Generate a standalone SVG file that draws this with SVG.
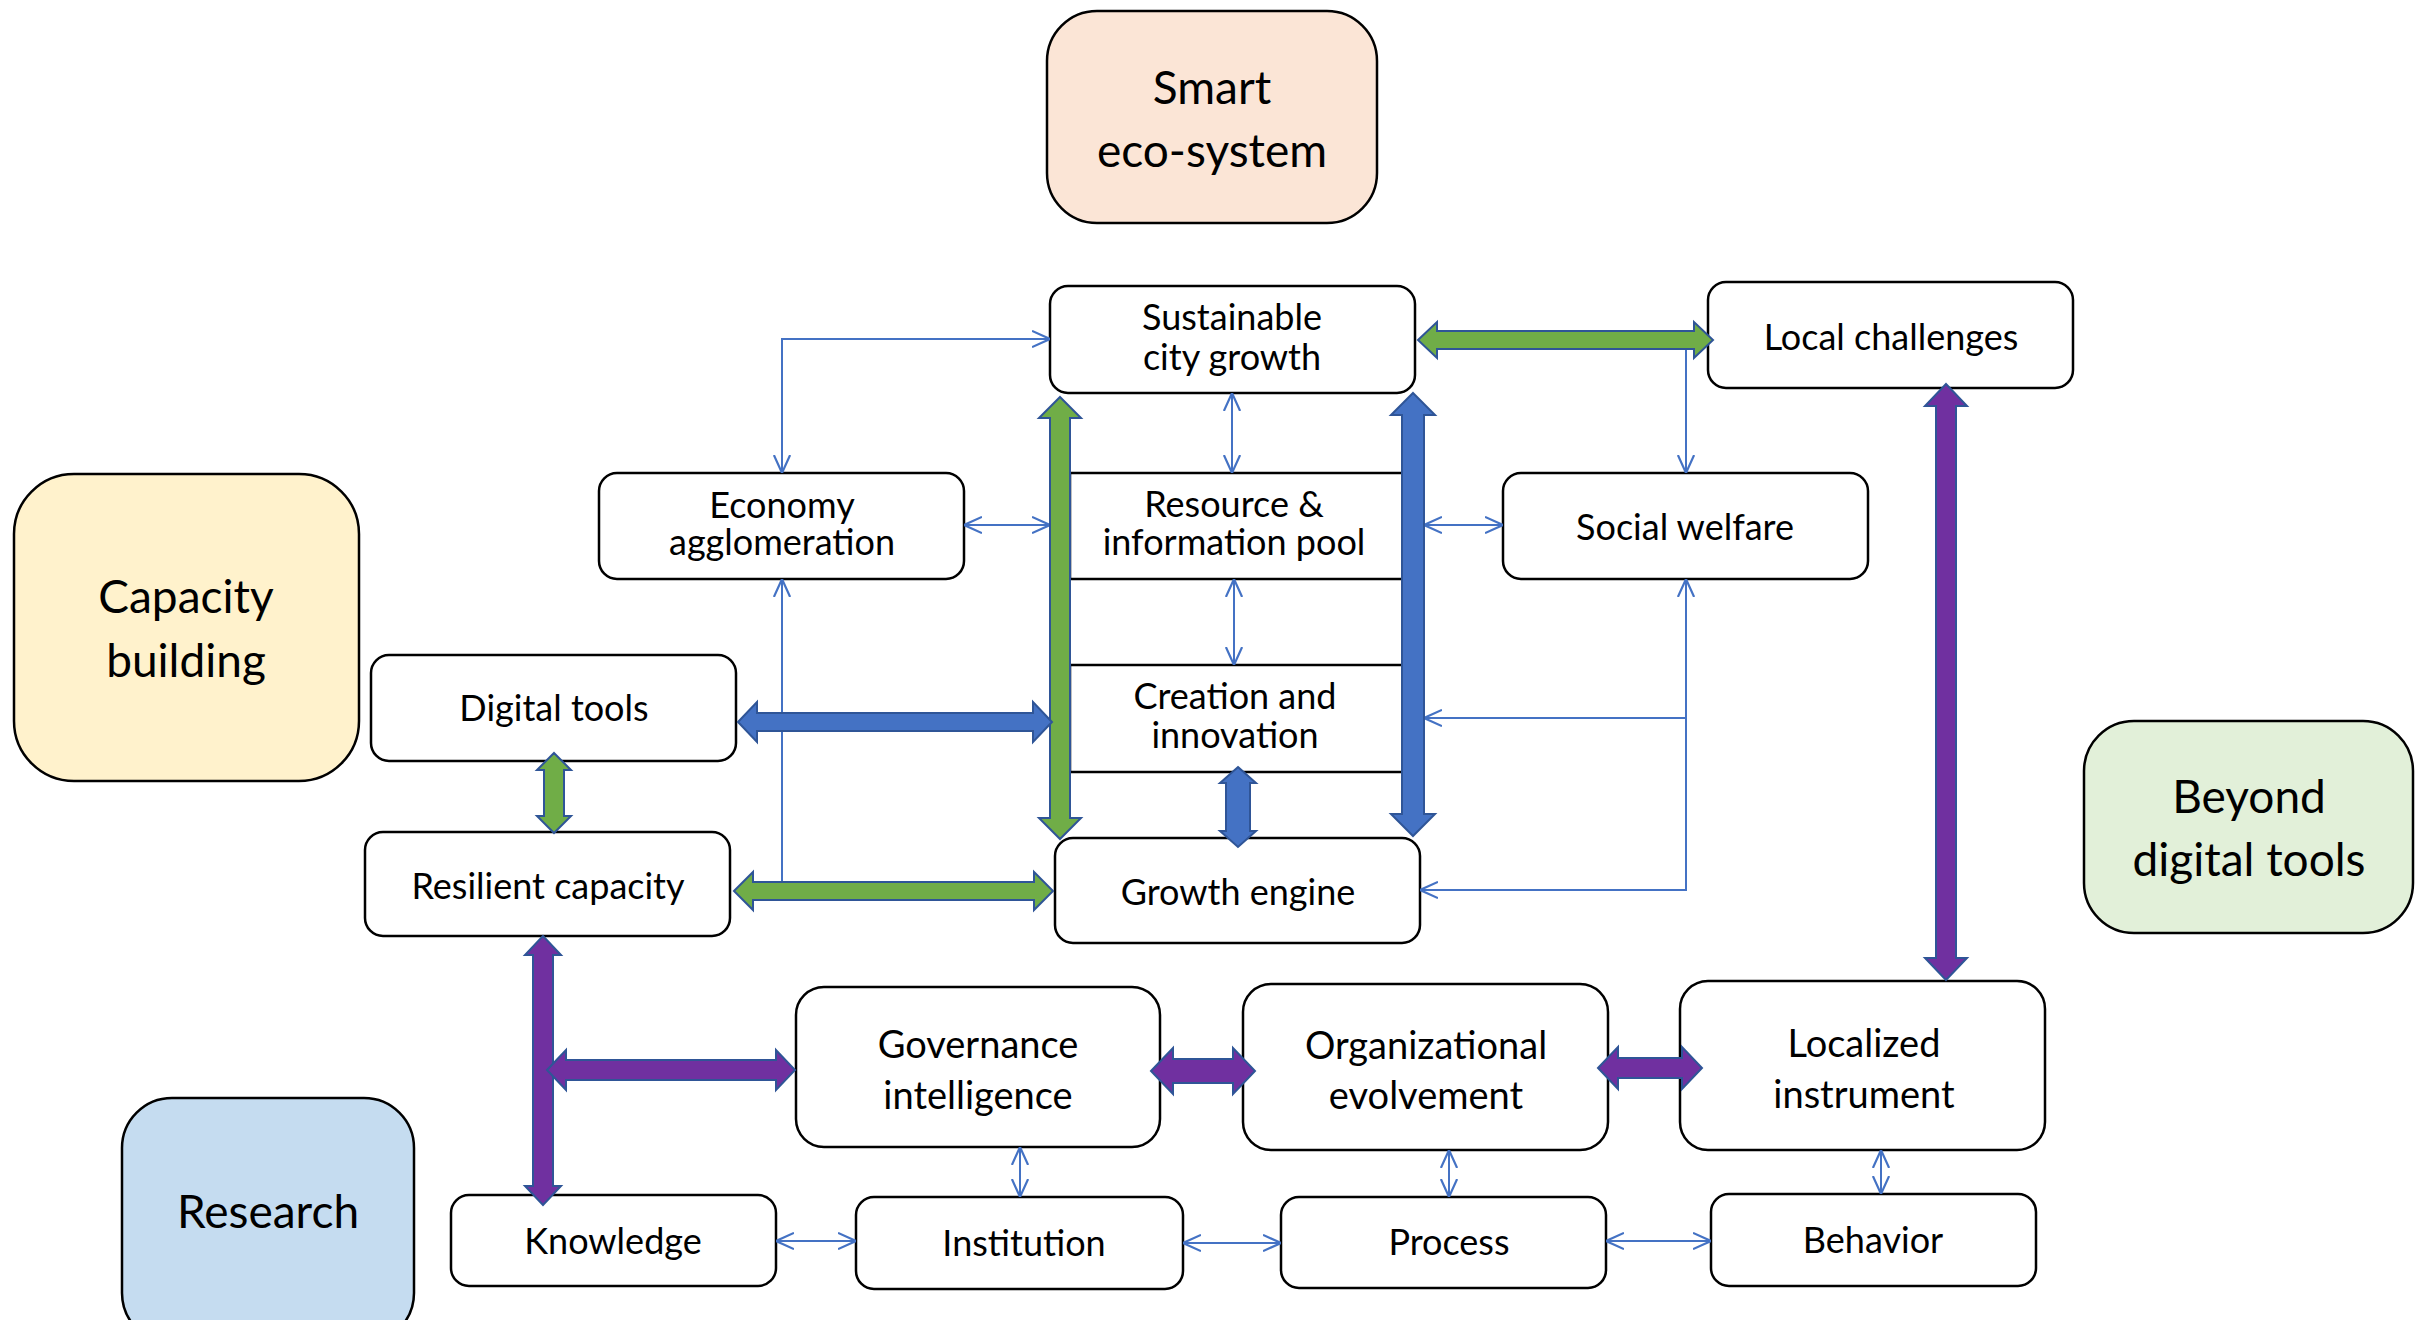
<svg xmlns="http://www.w3.org/2000/svg" width="2415" height="1320" viewBox="0 0 2415 1320">
<style>
.box{fill:#fff;stroke:#000;stroke-width:2.5}
.lbl{font-family:Lato,"Open Sans","Liberation Sans",sans-serif;font-weight:400;font-size:36px;fill:#000;text-anchor:middle}
.big{font-size:46px}
.mid{font-size:38px}
.thin{fill:none;stroke:#4472C4;stroke-width:2}
.both{marker-start:url(#oa);marker-end:url(#oa)}
.end{marker-end:url(#oa)}
.start{marker-start:url(#oa)}
.g{fill:#70AD47;stroke:#2F5597;stroke-width:2;stroke-linejoin:miter}
.b{fill:#4472C4;stroke:#2F5597;stroke-width:2}
.p{fill:#7030A0;stroke:#2F5597;stroke-width:2}
</style>
<defs>
<marker id="oa" viewBox="0 0 10 10" refX="10" refY="5" markerWidth="18" markerHeight="18" markerUnits="userSpaceOnUse" orient="auto-start-reverse">
<path d="M0,0.5 L10,5 L0,9.5" fill="none" stroke="#4472C4" stroke-width="1.2"/>
</marker>
</defs>

<g id="smart-eco-system">
<rect x="1047" y="11" width="330" height="212" rx="50" fill="#FBE5D6" stroke="#000" stroke-width="2.5"/>
<text class="lbl big" x="1212" y="104">Smart</text>
<text class="lbl big" x="1212" y="167">eco-system</text>
</g>
<g id="capacity-building">
<rect x="14" y="474" width="345" height="307" rx="60" fill="#FFF2CC" stroke="#000" stroke-width="2.5"/>
<text class="lbl big" x="186" y="613">Capacity</text>
<text class="lbl big" x="186" y="677">building</text>
</g>
<g id="beyond-digital-tools">
<rect x="2084" y="721" width="329" height="212" rx="50" fill="#E2F0D9" stroke="#000" stroke-width="2.5"/>
<text class="lbl big" x="2249" y="813">Beyond</text>
<text class="lbl big" x="2249" y="876">digital tools</text>
</g>
<g id="research">
<rect x="122" y="1098" width="292" height="245" rx="50" fill="#C5DCF0" stroke="#000" stroke-width="2.5"/>
<text class="lbl big" x="268" y="1228">Research</text>
</g>

<g id="sustainable-city-growth">
<rect class="box" x="1050" y="286" width="365" height="107" rx="18"/>
<text class="lbl" x="1232" y="330">Sustainable</text>
<text class="lbl" x="1232" y="370">city growth</text>
</g>
<g id="local-challenges">
<rect class="box" x="1708" y="282" width="365" height="106" rx="18"/>
<text class="lbl" x="1891" y="350">Local challenges</text>
</g>
<g id="economy-agglomeration">
<rect class="box" x="599" y="473" width="365" height="106" rx="18"/>
<text class="lbl" x="782" y="518">Economy</text>
<text class="lbl" x="782" y="555">agglomeration</text>
</g>
<g id="resource-information-pool">
<rect class="box" x="1070" y="473" width="333" height="106"/>
<text class="lbl" x="1234" y="517">Resource &amp;</text>
<text class="lbl" x="1234" y="555">information pool</text>
</g>
<g id="creation-and-innovation">
<rect class="box" x="1070" y="665" width="333" height="107"/>
<text class="lbl" x="1235" y="709">Creation and</text>
<text class="lbl" x="1235" y="748">innovation</text>
</g>
<g id="social-welfare">
<rect class="box" x="1503" y="473" width="365" height="106" rx="18"/>
<text class="lbl" x="1685" y="540">Social welfare</text>
</g>
<g id="digital-tools">
<rect class="box" x="371" y="655" width="365" height="106" rx="18"/>
<text class="lbl" x="554" y="721">Digital tools</text>
</g>
<g id="resilient-capacity">
<rect class="box" x="365" y="832" width="365" height="104" rx="18"/>
<text class="lbl" x="548" y="899">Resilient capacity</text>
</g>
<g id="growth-engine">
<rect class="box" x="1055" y="838" width="365" height="105" rx="18"/>
<text class="lbl" x="1238" y="905">Growth engine</text>
</g>
<g id="governance-intelligence">
<rect class="box" x="796" y="987" width="364" height="160" rx="28"/>
<text class="lbl mid" x="978" y="1058">Governance</text>
<text class="lbl mid" x="978" y="1109">intelligence</text>
</g>
<g id="organizational-evolvement">
<rect class="box" x="1243" y="984" width="365" height="166" rx="28"/>
<text class="lbl mid" x="1426" y="1059">Organizational</text>
<text class="lbl mid" x="1426" y="1109">evolvement</text>
</g>
<g id="localized-instrument">
<rect class="box" x="1680" y="981" width="365" height="169" rx="28"/>
<text class="lbl mid" x="1864" y="1057">Localized</text>
<text class="lbl mid" x="1864" y="1108">instrument</text>
</g>
<g id="knowledge">
<rect class="box" x="451" y="1195" width="325" height="91" rx="18"/>
<text class="lbl" x="613" y="1254">Knowledge</text>
</g>
<g id="institution">
<rect class="box" x="856" y="1197" width="327" height="92" rx="18"/>
<text class="lbl" x="1024" y="1256">Institution</text>
</g>
<g id="process">
<rect class="box" x="1281" y="1197" width="325" height="91" rx="18"/>
<text class="lbl" x="1449" y="1255">Process</text>
</g>
<g id="behavior">
<rect class="box" x="1711" y="1194" width="325" height="92" rx="18"/>
<text class="lbl" x="1873" y="1253">Behavior</text>
</g>

<g id="connectors">
<path class="thin both" d="M782,473 V339 H1050"/>
<path class="thin both" d="M1232,393 V473"/>
<path class="thin both" d="M964,525 H1050"/>
<path class="thin both" d="M1234,579 V665"/>
<path class="thin both" d="M1424,525 H1503"/>
<path class="thin end" d="M1686,349 V473"/>
<path class="thin both" d="M1686,579 V890 H1420"/>
<path class="thin end" d="M1686,718 H1424"/>
<path class="thin start" d="M782,579 V882"/>
<path class="thin both" d="M1020,1147 V1197"/>
<path class="thin both" d="M1449,1150 V1197"/>
<path class="thin both" d="M1881,1150 V1194"/>
<path class="thin both" d="M776,1241 H856"/>
<path class="thin both" d="M1183,1243 H1281"/>
<path class="thin both" d="M1606,1241 H1711"/>

<polygon class="g" points="1060,397 1081,418 1070,418 1070,818 1081,818 1060,839 1039,818 1050,818 1050,418 1039,418"/>
<polygon class="b" points="1413,393 1435,415 1424,415 1424,814 1435,814 1413,836 1391,814 1402,814 1402,415 1391,415"/>
<polygon class="b" points="1238,767 1256,783 1250,783 1250,831 1256,831 1238,847 1220,831 1226,831 1226,783 1220,783"/>
<polygon class="b" points="738,722 757,702 757,713 1033,713 1033,702 1052,722 1033,742 1033,731 757,731 757,742"/>
<polygon class="g" points="734,891 753,872 753,882 1034,882 1034,872 1053,891 1034,910 1034,900 753,900 753,910"/>
<polygon class="g" points="1418,340 1437,322 1437,331 1694,331 1694,322 1713,340 1694,358 1694,349 1437,349 1437,358"/>
<polygon class="g" points="554,753 571,770 564,770 564,816 571,816 554,833 537,816 544,816 544,770 537,770"/>
<polygon class="p" points="543,936 561,955 553,955 553,1186 561,1186 543,1205 525,1186 533,1186 533,955 525,955"/>
<polygon class="p" points="547,1070 566,1050 566,1060 776,1060 776,1050 795,1070 776,1090 776,1080 566,1080 566,1090"/>
<polygon class="p" points="1151,1071 1173,1048 1173,1059 1233,1059 1233,1048 1255,1071 1233,1094 1233,1083 1173,1083 1173,1094"/>
<polygon class="p" points="1598,1068 1618,1047 1618,1058 1682,1058 1682,1047 1702,1068 1682,1089 1682,1078 1618,1078 1618,1089"/>
<polygon class="p" points="1946,384 1967,406 1956,406 1956,958 1967,958 1946,980 1925,958 1936,958 1936,406 1925,406"/>
</g>
</svg>
